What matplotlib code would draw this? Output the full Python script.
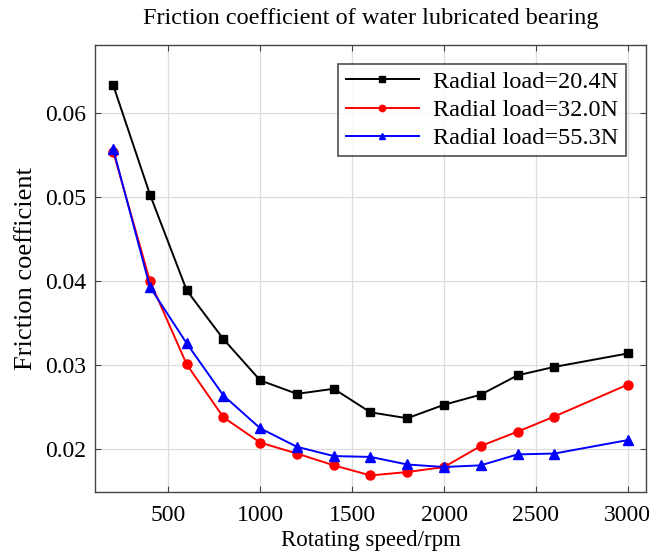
import matplotlib; matplotlib.use("Agg")
import matplotlib.pyplot as plt

speed = [200, 400, 600, 800, 1000, 1200, 1400, 1600, 1800, 2000, 2200, 2400, 2600, 3000]
load_20 = [0.0633, 0.0503, 0.0389, 0.0331, 0.0282, 0.0266, 0.0272, 0.0244, 0.0237, 0.0253, 0.0265, 0.0288, 0.0298, 0.0314]
load_32 = [0.0554, 0.0400, 0.0301, 0.0238, 0.0208, 0.0195, 0.0181, 0.0169, 0.0173, 0.0179, 0.0204, 0.0221, 0.0239, 0.0277]
load_55 = [0.0557, 0.0393, 0.0326, 0.0264, 0.0225, 0.0203, 0.0192, 0.0191, 0.0182, 0.0179, 0.0181, 0.0194, 0.0195, 0.0211]
labels = ["Radial load=20.4N", "Radial load=32.0N", "Radial load=55.3N"]
xticks = [500, 1000, 1500, 2000, 2500, 3000]
yticks = [0.02, 0.03, 0.04, 0.05, 0.06]

plt.rcParams["font.family"] = ["Liberation Serif", "DejaVu Serif"]

fig = plt.figure(figsize=(6.54, 5.6), dpi=100)
ax = fig.add_axes([0.145, 0.121, 0.843, 0.799])

ax.plot(speed, load_20, color="black", marker="s", ms=6, lw=1.4, label=labels[0])
ax.plot(speed, load_32, color="red", marker="o", ms=6.5, lw=1.4, label=labels[1])
ax.plot(speed, load_55, color="blue", marker="^", ms=6.5, lw=1.4, label=labels[2])

ax.set_xlim(100, 3100)
ax.set_ylim(0.0149, 0.0681)
ax.set_xticks(xticks)
ax.set_yticks(yticks)
ax.grid(True, color="#dddddd", lw=0.9)
ax.set_axisbelow(True)
ax.tick_params(direction="in", top=True, right=True, labelsize=17, length=4, color="#444444")
ax.tick_params(axis="x", pad=9)
ax.tick_params(axis="y", pad=6)
for s in ax.spines.values():
    s.set_color("#444444")
    s.set_linewidth(1.0)

ax.set_xlabel("Rotating speed/rpm", fontsize=16.5, labelpad=3)
ax.set_ylabel("Friction coefficient", fontsize=19, labelpad=6)
ax.set_title("Friction coefficient of water lubricated bearing", fontsize=17.5, pad=15)

leg = ax.legend(loc="upper right", fontsize=17.5, fancybox=False, edgecolor="#222222",
                handlelength=3.0, markerscale=0.7, borderpad=0.3, labelspacing=0.25,
                handletextpad=0.6, bbox_to_anchor=(0.985, 0.985))
leg.get_frame().set_linewidth(1.2)

fig.savefig("out.png", dpi=100)
